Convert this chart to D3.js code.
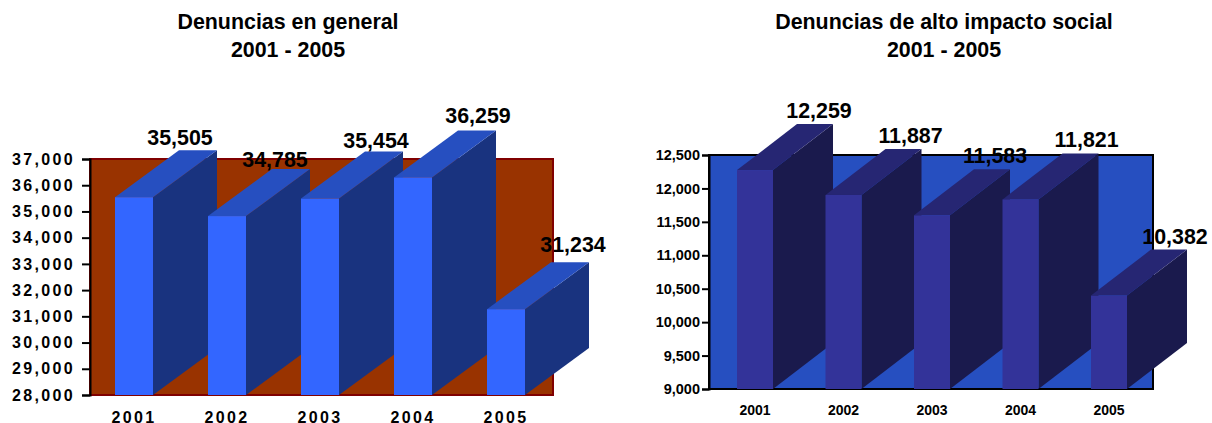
<!DOCTYPE html>
<html>
<head>
<meta charset="utf-8">
<script src="https://cdn.jsdelivr.net/npm/d3@7/dist/d3.min.js"></script>
<style>
html,body{margin:0;padding:0;background:#fff;}
svg{display:block;font-family:"Liberation Sans",Arial,sans-serif;font-weight:bold;fill:#000;}
</style>
</head>
<body>
<svg id="chart" width="1212" height="423"></svg>
<script>
const years = ["2001","2002","2003","2004","2005"];
const generalValues = [35505,34785,35454,36259,31234];
const impactValues = [12259,11887,11583,11821,10382];
const generalTicks = [28000,29000,30000,31000,32000,33000,34000,35000,36000,37000];
const impactTicks = [9000,9500,10000,10500,11000,11500,12000,12500];
const generalTitle = ["Denuncias en general","2001 - 2005"];
const impactTitle = ["Denuncias de alto impacto social","2001 - 2005"];

const svg = d3.select("#chart");
const fmt = d3.format(",");

function drawChart(c){
  const g = svg.append("g");
  const y = d3.scaleLinear().domain(c.domain).range([c.bottom,c.top]);
  const x = d3.scaleBand().domain(years).range(c.barRange).paddingInner(c.padInner).paddingOuter(0);
  const barTop = v => y(v) - 1;

  c.title.forEach((t,i)=>g.append("text").attr("x",c.titleX).attr("y",29+i*28)
    .attr("text-anchor","middle").style("font-size","21.4px").text(t));

  g.append("rect").attr("x",c.left).attr("y",c.top)
    .attr("width",c.right-c.left).attr("height",c.bottom-c.top)
    .attr("fill",c.bg).attr("stroke",c.border).attr("stroke-width",2);

  const ya = g.append("g").attr("transform",`translate(${c.left},0)`)
    .call(d3.axisLeft(y).tickValues(c.ticks).tickFormat(fmt).tickSize(c.tickLen).tickPadding(c.tickPad));
  ya.select(".domain").attr("stroke","#000").attr("stroke-width",2);
  ya.selectAll("line").attr("stroke","#000").attr("stroke-width",2);
  ya.selectAll("text").attr("fill","#000").attr("font-family","inherit").attr("font-weight","bold")
    .style("font-size",c.yFont+"px").style("letter-spacing",c.ySpacing+"px");

  const xa = g.append("g").attr("transform",`translate(0,${c.xLabelY})`)
    .call(d3.axisBottom(x).tickSize(0).tickPadding(0));
  xa.select(".domain").remove();
  xa.selectAll("text").attr("fill","#000").attr("font-family","inherit").attr("font-weight","bold")
    .attr("dy",0).style("font-size",c.xFont+"px").style("letter-spacing",c.xSpacing+"px");

  const rows = years.map((yr,i)=>({yr,i,v:c.values[i]}));
  const bars = g.selectAll(".bar").data(rows).join("g").attr("class","bar");
  const w = x.bandwidth();
  const poly = (pts)=>pts.map(p=>p.join(",")).join(" ");
  bars.append("polygon").attr("fill",c.side).attr("points",d=>{
    const l=x(d.yr), t=barTop(d.v), b=c.bottom;
    return poly([[l+w,t],[l+w+c.dx,t-c.dy],[l+w+c.dx,b-c.dy],[l+w,b]]);
  });
  bars.append("polygon").attr("fill",c.topFace).attr("points",d=>{
    const l=x(d.yr), t=barTop(d.v);
    return poly([[l,t],[l+c.dx,t-c.dy],[l+w+c.dx,t-c.dy],[l+w,t]]);
  });
  bars.append("rect").attr("fill",c.front)
    .attr("x",d=>x(d.yr)).attr("y",d=>barTop(d.v)).attr("width",w).attr("height",d=>c.bottom-barTop(d.v));

  g.selectAll(".val").data(rows).join("text").attr("class","val")
    .attr("text-anchor","middle")
    .attr("x",d=>x(d.yr)+w/2+c.labelDx[d.i])
    .attr("y",d=>barTop(d.v)-c.dy-c.labelDy[d.i])
    .style("font-size","21.4px")
    .text(d=>fmt(d.v));
}

drawChart({
  values:generalValues, ticks:generalTicks, domain:[28000,37000], title:generalTitle, titleX:288,
  left:90, right:553, top:159, bottom:395, barRange:[115,525], padInner:55/93,
  dx:64, dy:47, tickLen:8, tickPad:7, yFont:16, ySpacing:2.35, xFont:16, xSpacing:2.35, xLabelY:422.5,
  bg:"#993300", border:"#800000", front:"#3366ff", topFace:"#264fc0", side:"#19337f",
  labelDx:[46,48,56,65,67], labelDy:[5,2,4,7,10]
});
drawChart({
  values:impactValues, ticks:impactTicks, domain:[9000,12500], title:impactTitle, titleX:944,
  left:709, right:1153, top:155, bottom:389, barRange:[737,1127], padInner:52.5/88.5,
  dx:60, dy:46, tickLen:7, tickPad:2, yFont:14.5, ySpacing:0, xFont:14, xSpacing:0, xLabelY:415,
  bg:"#264fc0", border:"#000", front:"#333399", topFace:"#262673", side:"#1a1a4d",
  labelDx:[64,67,63,66,66], labelDy:[6,6,6,6,6]
});
</script>
</body>
</html>
